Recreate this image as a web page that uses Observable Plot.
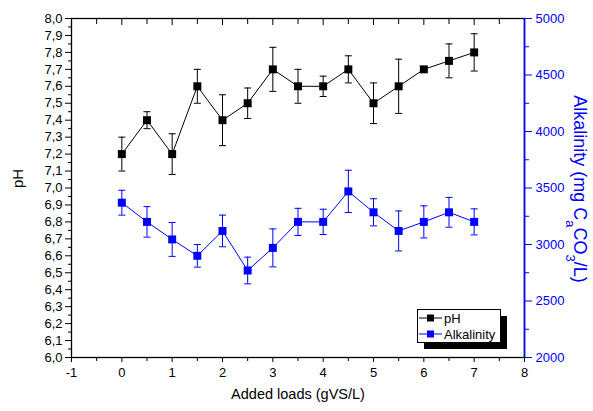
<!DOCTYPE html>
<html>
<head>
<meta charset="utf-8">
<script src="https://cdn.jsdelivr.net/npm/d3@7"></script>
<script src="https://cdn.jsdelivr.net/npm/@observablehq/plot@0.6"></script>
<style>
  html, body { margin: 0; padding: 0; background: #fff; }
  #chart svg { display: block; }
</style>
</head>
<body>
<div id="chart"></div>
<script>
// ---- data ----
const loads = [0, 0.5, 1, 1.5, 2, 2.5, 3, 3.5, 4, 4.5, 5, 5.5, 6, 6.5, 7];
const pHValues = [7.2, 7.4, 7.2, 7.6, 7.4, 7.5, 7.7, 7.6, 7.6, 7.7, 7.5, 7.6, 7.7, 7.75, 7.8];
const pHErrors = [0.10, 0.05, 0.12, 0.10, 0.15, 0.09, 0.13, 0.10, 0.06, 0.08, 0.12, 0.16, 0, 0.10, 0.11];
const alkValues = [3370, 3200, 3045, 2900, 3120, 2770, 2970, 3200, 3200, 3470, 3285, 3120, 3200, 3285, 3200];
const alkErrors = [110, 135, 150, 100, 140, 118, 168, 120, 112, 187, 120, 177, 142, 132, 115];
const xTicks = [-1, 0, 1, 2, 3, 4, 5, 6, 7, 8];
const xMinorTicks = [-0.5, 0.5, 1.5, 2.5, 3.5, 4.5, 5.5, 6.5, 7.5];
const pHTicks = d3.range(60, 81).map(d => d / 10);
const pHMinorTicks = d3.range(60, 80).map(d => d / 10 + 0.05);
const alkTicks = [2000, 2500, 3000, 3500, 4000, 4500, 5000];
const alkMinorTicks = [2250, 2750, 3250, 3750, 4250, 4750];

// map alkalinity (2000..5000) onto the pH axis (6..8)
const toY = a => 6 + (a - 2000) / 1500;
const fromY = y => Math.round(2000 + (y - 6) * 1500);

const phData = loads.map((x, i) => ({x, y: pHValues[i], lo: pHValues[i] - pHErrors[i], hi: pHValues[i] + pHErrors[i], e: pHErrors[i]}));
const alkData = loads.map((x, i) => ({x, y: toY(alkValues[i]), lo: toY(alkValues[i] - alkErrors[i]), hi: toY(alkValues[i] + alkErrors[i]), e: alkErrors[i]}));

const cap = {draw(ctx, size) { const w = 3.5; ctx.moveTo(-w, 0); ctx.lineTo(w, 0); }};
const BLUE = "#0000ff";

function errorMarks(data, color) {
  const withErr = data.filter(d => d.e > 0);
  return [
    Plot.ruleX(withErr, {x: "x", y1: "lo", y2: "hi", stroke: color, strokeWidth: 1}),
    Plot.dot(withErr, {x: "x", y: "lo", symbol: cap, r: 2, stroke: color, strokeWidth: 1, fill: "none"}),
    Plot.dot(withErr, {x: "x", y: "hi", symbol: cap, r: 2, stroke: color, strokeWidth: 1, fill: "none"})
  ];
}

const chart = Plot.plot({
  width: 593,
  height: 411,
  marginLeft: 71,
  marginRight: 69,
  marginTop: 18,
  marginBottom: 54,
  style: {fontFamily: "'Liberation Sans', Arial, sans-serif", fontSize: "13px", background: "#fff", color: "#000"},
  x: {domain: [-1, 8]},
  y: {domain: [6, 8]},
  marks: [
    // bottom axis
    Plot.axisX(xTicks, {anchor: "bottom", tickSize: 5, tickPadding: 5, tickFormat: d => d < 0 ? "-" + Math.abs(d) : String(d), label: null}),
    Plot.axisX(xMinorTicks, {anchor: "bottom", tickSize: 4, text: null, label: null}),
    // top axis (inward ticks)
    Plot.axisX(xTicks, {anchor: "top", tickSize: -6, text: null, label: null}),
    Plot.axisX(xMinorTicks, {anchor: "top", tickSize: -5, text: null, label: null}),
    // left pH axis
    Plot.axisY(pHTicks, {anchor: "left", tickSize: 6, tickPadding: 3, tickFormat: d => d.toFixed(1).replace(".", ","), label: null}),
    Plot.axisY(pHMinorTicks, {anchor: "left", tickSize: 3, text: null, label: null}),
    // right alkalinity axis
    Plot.axisY(alkTicks.map(toY), {anchor: "right", tickSize: 7, tickPadding: 4, tickFormat: d => String(fromY(d)), color: BLUE, label: null}),
    Plot.axisY(alkMinorTicks.map(toY), {anchor: "right", tickSize: 4, text: null, color: BLUE, label: null}),
    Plot.frame({stroke: "#000", strokeWidth: 1.3}),
    Plot.ruleX([8], {stroke: BLUE, strokeWidth: 1.6}),
    // axis titles
    Plot.text(["Added loads (gVS/L)"], {frameAnchor: "bottom", dy: 41, fontSize: 14.5}),
    Plot.text(["pH"], {frameAnchor: "left", dx: -53, rotate: -90, fontSize: 15}),
    // series
    ...errorMarks(phData, "#000"),
    Plot.line(phData, {x: "x", y: "y", stroke: "#000", strokeWidth: 1}),
    Plot.dot(phData, {x: "x", y: "y", symbol: "square", r: 4.5, fill: "#000", stroke: "none"}),
    ...errorMarks(alkData, BLUE),
    Plot.line(alkData, {x: "x", y: "y", stroke: BLUE, strokeWidth: 1}),
    Plot.dot(alkData, {x: "x", y: "y", symbol: "square", r: 4.5, fill: BLUE, stroke: "none"})
  ]
});

document.getElementById("chart").appendChild(chart);

// right axis title with subscripts
const svg = d3.select(chart);
const t = svg.append("text")
  .attr("transform", "translate(574,189) rotate(90)")
  .attr("text-anchor", "middle")
  .attr("fill", BLUE)
  .attr("font-size", 18)
  .attr("font-family", "'Liberation Sans', Arial, sans-serif");
t.append("tspan").text("Alkalinity (mg C");
t.append("tspan").attr("baseline-shift", "sub").attr("font-size", 13).text("a");
t.append("tspan").text("CO");
t.append("tspan").attr("baseline-shift", "sub").attr("font-size", 13).text("3");
t.append("tspan").text("/L)");

// legend
const series = [{name: "pH", color: "#000"}, {name: "Alkalinity", color: BLUE}];
const lg = svg.append("g")
  .attr("font-family", "'Liberation Sans', Arial, sans-serif")
  .attr("font-size", 13)
  .attr("text-anchor", "start");
lg.append("rect").attr("x", 424).attr("y", 316).attr("width", 83).attr("height", 33).attr("fill", "#000");
lg.append("rect").attr("x", 417.5).attr("y", 309.5).attr("width", 83).attr("height", 33).attr("fill", "#fff").attr("stroke", "#000").attr("stroke-width", 1);
series.forEach((s, i) => {
  const y = 318 + i * 16;
  lg.append("line").attr("x1", 419).attr("x2", 442).attr("y1", y).attr("y2", y).attr("stroke", s.color);
  lg.append("rect").attr("x", 427).attr("y", y - 3.5).attr("width", 7).attr("height", 7).attr("fill", s.color);
  lg.append("text").attr("x", 444).attr("y", y).attr("dy", "0.35em").attr("text-anchor", "start").attr("fill", "#000").text(s.name);
});
</script>
</body>
</html>
